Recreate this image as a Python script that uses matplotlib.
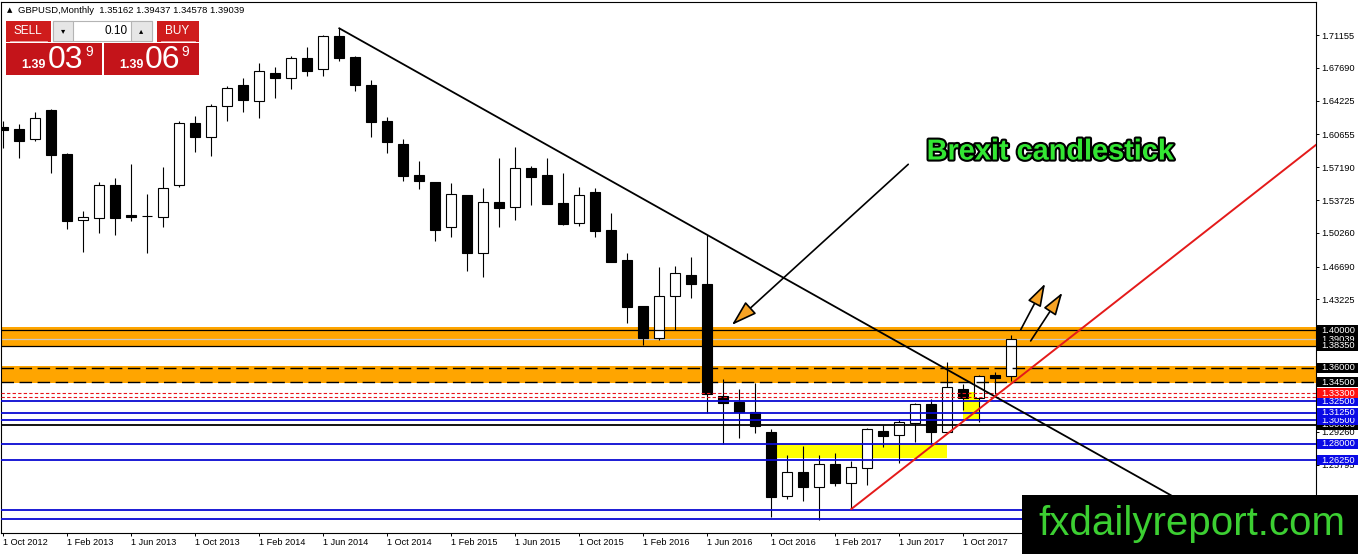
import numpy as np
import matplotlib
matplotlib.use("Agg")
from matplotlib import pyplot as plt
from matplotlib import patheffects
from matplotlib.patches import Rectangle, FancyArrowPatch
from matplotlib.transforms import blended_transform_factory

W, H = 1358, 554

# GBPUSD monthly candles, Oct 2012 .. Jan 2018
opens = [1.6144, 1.6123, 1.6014, 1.6324, 1.5859, 1.5159, 1.5186, 1.5532, 1.5215, 1.5200,
         1.5197, 1.5528, 1.6183, 1.6035, 1.6363, 1.6588, 1.6415, 1.6711, 1.6658, 1.6869,
         1.6753, 1.7105, 1.6880, 1.6588, 1.6207, 1.5965, 1.5637, 1.5560, 1.5091, 1.5426,
         1.4810, 1.5349, 1.5296, 1.5708, 1.5637, 1.5338, 1.5127, 1.5454, 1.5056, 1.4740,
         1.4254, 1.3913, 1.4359, 1.4581, 1.4486, 1.3307, 1.3244, 1.3138, 1.2920, 1.2248,
         1.2504, 1.2339, 1.2582, 1.2382, 1.2540, 1.2934, 1.2892, 1.3015, 1.3216, 1.2927,
         1.3377, 1.3279, 1.3525, 1.35162]
highs = [1.6207, 1.6173, 1.6306, 1.6331, 1.5873, 1.5257, 1.5566, 1.5609, 1.5753, 1.5437,
         1.5725, 1.6211, 1.6260, 1.6387, 1.6577, 1.6658, 1.6817, 1.6774, 1.6894, 1.6986,
         1.7116, 1.7186, 1.6894, 1.6640, 1.6246, 1.6017, 1.5785, 1.5560, 1.5549, 1.5426,
         1.5497, 1.5813, 1.5936, 1.5732, 1.5813, 1.5655, 1.5514, 1.5497, 1.5233, 1.4810,
         1.4254, 1.4662, 1.4676, 1.4768, 1.5004, 1.3483, 1.3374, 1.3438, 1.2952, 1.2680,
         1.2775, 1.2680, 1.2705, 1.2617, 1.2962, 1.2993, 1.3061, 1.3226, 1.3269, 1.3666,
         1.3427, 1.3528, 1.3560, 1.39437]
lows = [1.5922, 1.5820, 1.5993, 1.5662, 1.5067, 1.4827, 1.5028, 1.5007, 1.5155, 1.4810,
        1.5091, 1.5507, 1.5883, 1.5838, 1.6210, 1.6306, 1.6242, 1.6453, 1.6548, 1.6683,
        1.6686, 1.6844, 1.6527, 1.6042, 1.5866, 1.5577, 1.5486, 1.4943, 1.4986, 1.4627,
        1.4563, 1.5085, 1.5162, 1.5320, 1.5331, 1.5109, 1.5099, 1.4986, 1.4722, 1.4077,
        1.3842, 1.3895, 1.4000, 1.4335, 1.3121, 1.2793, 1.2863, 1.2910, 1.2029, 1.2213,
        1.2198, 1.1994, 1.2353, 1.2118, 1.2364, 1.2768, 1.2593, 1.2821, 1.2786, 1.2927,
        1.3155, 1.3032, 1.3325, 1.34578]
closes = [1.6115, 1.6000, 1.6236, 1.5852, 1.5155, 1.5190, 1.5532, 1.5186, 1.5197, 1.5208,
          1.5497, 1.6183, 1.6035, 1.6363, 1.6553, 1.6429, 1.6732, 1.6658, 1.6869, 1.6738,
          1.7105, 1.6876, 1.6588, 1.6200, 1.5989, 1.5630, 1.5577, 1.5056, 1.5437, 1.4810,
          1.5349, 1.5286, 1.5708, 1.5619, 1.5331, 1.5120, 1.5426, 1.5049, 1.4722, 1.4240,
          1.3913, 1.4359, 1.4599, 1.4483, 1.3325, 1.3226, 1.3138, 1.2987, 1.2240, 1.2504,
          1.2346, 1.2582, 1.2382, 1.2551, 1.2952, 1.2884, 1.3026, 1.3216, 1.2927, 1.3395,
          1.3279, 1.3518, 1.3497, 1.39039]

date_labels = ["1 Oct 2012", "1 Feb 2013", "1 Jun 2013", "1 Oct 2013", "1 Feb 2014",
               "1 Jun 2014", "1 Oct 2014", "1 Feb 2015", "1 Jun 2015", "1 Oct 2015",
               "1 Feb 2016", "1 Jun 2016", "1 Oct 2016", "1 Feb 2017", "1 Jun 2017",
               "1 Oct 2017"]
price_ticks = [1.71155, 1.67690, 1.64225, 1.60655, 1.57190, 1.53725, 1.50260, 1.46690,
               1.43225, 1.39760, 1.36295, 1.32725, 1.29260, 1.25795, 1.22330]

# drawn levels / zones
orange_zones = [(1.3825, 1.4036), (1.3445, 1.3615)]
solid_levels = [1.4000, 1.3835]
bid_price = 1.39039
dashed_levels = [1.3600, 1.3450]
red_levels = [1.3330, 1.3297]
blue_levels = [1.3250, 1.3125, 1.3050, 1.2800, 1.2625, 1.2100, 1.2000]
black_level = 1.3000
yellow_zones = [(48, 59, 1.2646, 1.2797), (60, 61, 1.3050, 1.3345)]
down_trend = [(21, 1.7186), (44, 1.5004)]
up_trend_start = (53, 1.2110)
up_trend_slope = 0.01324  # price per bar

# right-axis price boxes (value, colour), in drawing order
price_boxes = [(1.40000, "black"), (1.39039, "black"), (1.38350, "black"),
               (1.36000, "black"), (1.34500, "black"), (1.30000, "black"),
               (1.30500, "#0a0ae6"), (1.31250, "#0a0ae6"), (1.32500, "#0a0ae6"),
               (1.33300, "#ff1010"), (1.28000, "#0a0ae6"), (1.26250, "#0a0ae6")]

plt.rcParams['font.family'] = ['Liberation Sans', 'DejaVu Sans']

ORANGE = "#ffa500"
BLUE = "#0a0ad2"

fig = plt.figure(figsize=(W / 100, H / 100), dpi=100)
ax_l, ax_r, ax_t, ax_b = 1, 1316, 2, 533
ax = fig.add_axes([ax_l / W, 1 - ax_b / H, (ax_r - ax_l) / W, (ax_b - ax_t) / H])

bar_px, bar0_px = 16.0, 3.3
px_per_price, ref_price, ref_px = 947.0, 1.71155, 35.0
ax.set_xlim((ax_l - bar0_px) / bar_px, (ax_r - bar0_px) / bar_px)
ax.set_ylim(ref_price - (ax_b - ref_px) / px_per_price, ref_price + (ref_px - ax_t) / px_per_price)

# zones
for lo, hi in orange_zones:
    ax.axhspan(lo, hi, color=ORANGE, lw=0, zorder=1)
for x0, x1, lo, hi in yellow_zones:
    ax.add_patch(Rectangle((x0, lo), x1 - x0, hi - lo, fc="#ffff00", ec="none", zorder=2))
ax.axhline(bid_price, color="#c8c8c8", lw=0.9, zorder=2.5)

# candles
for i in range(len(opens)):
    o, hi, lo, c = opens[i], highs[i], lows[i], closes[i]
    ax.vlines(i, lo, hi, color="black", lw=0.8, zorder=3)
    body_lo = min(o, c)
    body_h = max(abs(c - o), 0.0004)
    fc = "white" if c >= o else "black"
    ax.add_patch(Rectangle((i - 0.31, body_lo), 0.62, body_h, fc=fc, ec="black",
                           lw=0.8, zorder=3.5))

# horizontal levels
for v in solid_levels:
    ax.axhline(v, color="black", lw=0.9, zorder=5)
for v in dashed_levels:
    ax.axhline(v, color="black", lw=1.0, ls=(0, (9, 4)), zorder=5)
for v in red_levels:
    ax.axhline(v, color="#e8141b", lw=0.8, ls=(0, (3, 2)), zorder=5)
for v in blue_levels:
    ax.axhline(v, color=BLUE, lw=1.3, zorder=5)
ax.axhline(black_level, color="black", lw=1.3, zorder=5)

# trend lines
(xa, ya), (xb, yb) = down_trend
slope = (yb - ya) / (xb - xa)
xs = np.array([xa, 100])
ax.plot(xs, ya + slope * (xs - xa), color="black", lw=1.3, zorder=6)
xs = np.array([up_trend_start[0], 100])
ax.plot(xs, up_trend_start[1] + up_trend_slope * (xs - up_trend_start[0]),
        color="#e41a1a", lw=1.4, zorder=6)

# annotations
arrows = [((56.56, 1.5750), (45.53, 1.4053), 16, 5),
          ((63.59, 1.4004), (65.11, 1.4490), 14, 4.5),
          ((64.21, 1.3885), (66.19, 1.4395), 14, 4.5)]
for start, end, hl, hw in arrows:
    ax.add_patch(FancyArrowPatch(start, end,
                                 arrowstyle="-|>,head_length=%g,head_width=%g" % (hl, hw),
                                 mutation_scale=1, fc="#f7a325", ec="black", lw=1.2,
                                 shrinkA=0, shrinkB=0, zorder=7))
ax.text(57.71, 1.5885, "Brexit candlestick", ha="left", va="center", fontsize=20.8,
        fontweight="bold", color="#33e633", zorder=8,
        path_effects=[patheffects.withStroke(linewidth=3, foreground="black")])

# axes styling
for sp in ax.spines.values():
    sp.set_linewidth(0.8)
    sp.set_color("black")
ax.yaxis.tick_right()
ax.set_yticks(price_ticks)
ax.set_yticklabels(["%.5f" % v for v in price_ticks])
ax.set_xticks(np.arange(len(date_labels)) * 4)
ax.set_xticklabels(date_labels, ha="left")
ax.tick_params(axis="y", length=2.4, width=0.7, pad=1.3, labelsize=6.7, direction="out")
ax.tick_params(axis="x", length=2.4, width=0.7, pad=1.5, labelsize=6.6, direction="out")

# right-axis price boxes, each box hides the ones drawn before it
trans = blended_transform_factory(ax.transAxes, ax.transData)
span = ax_r - ax_l
box_h = 10 / px_per_price
for k, (v, col) in enumerate(price_boxes):
    z = 9 + 2 * k
    ax.add_patch(Rectangle((1 + 1 / span, v - box_h / 2), 41 / span, box_h, fc=col, ec="none",
                           transform=trans, clip_on=False, zorder=z))
    ax.text(1 + 5.5 / span, v, "%.5f" % v, color="white", fontsize=6.7, ha="left",
            va="center", transform=trans, clip_on=False, zorder=z + 1)

# overlay: header, trade panel, watermark
ov = fig.add_axes([0, 0, 1, 1], zorder=10)
ov.set_xlim(0, W)
ov.set_ylim(H, 0)
ov.set_axis_off()
ov.patch.set_visible(False)

ov.text(7, 10.5, "\u25b2", fontsize=5, va="center", ha="left", family=["DejaVu Sans"])
ov.text(18, 10.5, "GBPUSD,Monthly  1.35162 1.39437 1.34578 1.39039", fontsize=6.8,
        va="center", ha="left")

RED = "#cf1c1c"
for x0, x1 in [(6, 51), (157, 199)]:
    ov.add_patch(Rectangle((x0, 20.7), x1 - x0, 21, fc=RED, ec="none"))
    ov.plot([x0 + 4, x1 - 4], [41.2, 41.2], color="#f0b0b0", lw=0.6)
for x0, x1 in [(6, 101.5), (104, 199)]:
    ov.add_patch(Rectangle((x0, 42.7), x1 - x0, 32.3, fc="#c4141a", ec="none"))
ov.text(28, 31.5, "SELL", color="white", fontsize=8.5, ha="center", va="center")
ov.text(177, 31.5, "BUY", color="white", fontsize=8.5, ha="center", va="center")

ov.add_patch(Rectangle((52.5, 20.7), 99, 20, fc="white", ec="#b4b4b4", lw=0.8))
ov.add_patch(Rectangle((52.5, 20.7), 20.5, 20, fc="#e6e6e6", ec="#b4b4b4", lw=0.8))
ov.add_patch(Rectangle((131, 20.7), 20.5, 20, fc="#e6e6e6", ec="#b4b4b4", lw=0.8))
ov.text(62.7, 30.5, "\u25be", fontsize=6, ha="center", va="center", family=["DejaVu Sans"])
ov.text(141.2, 30.5, "\u25b4", fontsize=6, ha="center", va="center", family=["DejaVu Sans"])
ov.text(128, 30.5, "0.10", fontsize=8.5, ha="right", va="center")

for x_small, x_big, x_sup, big in [(21.5, 47.5, 85, "03"), (119, 144.5, 181.5, "06")]:
    ov.text(x_small, 68.3, "1.39", color="white", fontsize=9, fontweight="bold",
            ha="left", va="baseline")
    ov.text(x_big, 68.3, big, color="white", fontsize=23, ha="left", va="baseline")
    ov.text(x_sup, 55.5, "9", color="white", fontsize=10, ha="left", va="baseline")

ov.add_patch(Rectangle((1021.7, 495), W - 1021.7, H - 495, fc="black", ec="none"))
ov.text(1038, 535, "fxdailyreport.com", color="#3ccf32", fontsize=29, ha="left",
        va="baseline")

fig.savefig("out.png", dpi=100)
